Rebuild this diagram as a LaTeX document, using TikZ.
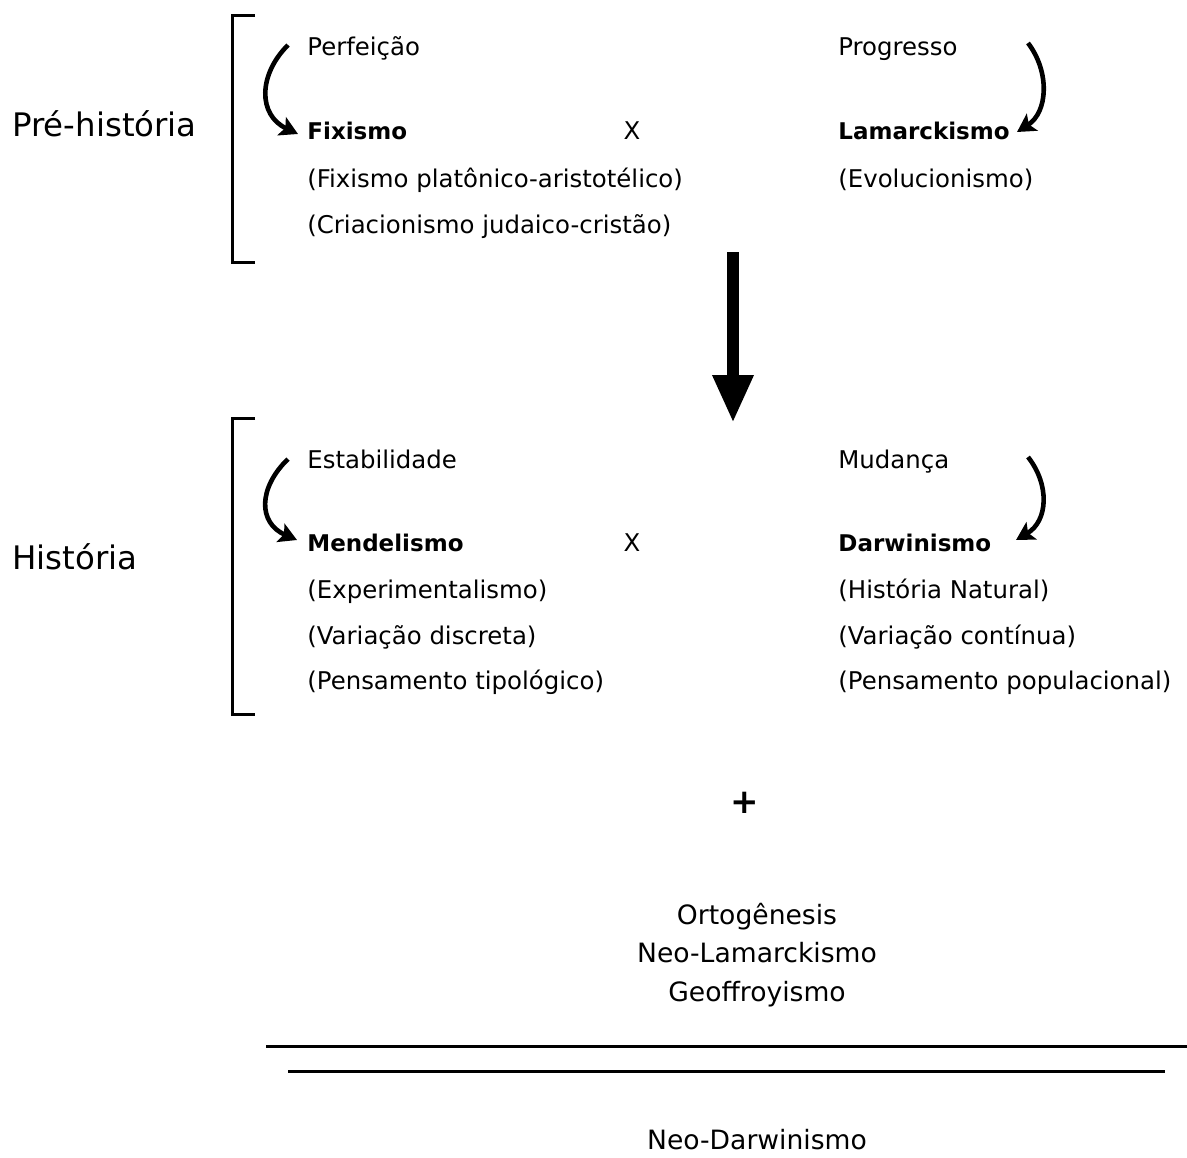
\documentclass[tikz,border=0pt]{standalone}
\usepackage{fontspec}
\setmainfont{DejaVu Sans}
\usetikzlibrary{arrows.meta}

\begin{document}
\begin{tikzpicture}[x=0.5pt,y=-0.5pt,font=\fontsize{12.2}{15}\selectfont,
  lbl/.style={anchor=west,inner sep=0pt,text height=8.9pt,text depth=0pt},
  bld/.style={lbl,font=\fontsize{11.5}{14}\selectfont\bfseries},
  era/.style={anchor=west,inner sep=0pt,font=\fontsize{16.2}{19}\selectfont,
    text height=11.8pt,text depth=0pt},
  mid/.style={inner sep=0pt,text height=8.9pt,text depth=0pt},
  ctr/.style={inner sep=0pt,font=\fontsize{13.3}{16}\selectfont,
    text height=9.7pt,text depth=0pt},
  brk/.style={line width=1.5pt},
  curvearr/.style={-{Stealth[length=9pt,width=10pt,inset=2pt]},line width=2.3pt},
  rule/.style={line width=1.5pt}]
\useasboundingbox (0,0) rectangle (1187,1157);
% eras
\node[era] (pre) at (12,125) {Pré-história};
\node[era] (his) at (12,558) {História};
\draw[brk] (255,15) -| (232,262) -- (255,262);
\draw[brk] (255,418) -| (232,714) -- (255,714);
% first block
\node[lbl] (perf) at (307,47) {Perfeição};
\node[lbl] (prog) at (838,47) {Progresso};
\node[bld] (fix) at (307,131) {Fixismo};
\node[mid] (xa) at (632,131) {X};
\node[bld] (lam) at (838,131) {Lamarckismo};
\foreach \i/\y/\t in {1/179/(Fixismo platônico-aristotélico),2/225/(Criacionismo judaico-cristão)}{
  \node[lbl] (fixa\i) at (307,\y) {\t};
}
\node[lbl] (lama1) at (838,179) {(Evolucionismo)};
\coordinate (c1) at (288,45);
\coordinate (c2) at (298,134);
\coordinate (c3) at (1028,43);
\coordinate (c4) at (1017,132);
\draw[curvearr] (c1) .. controls (258,75) and (258,115) .. (c2);
\draw[curvearr] (c3) .. controls (1050,72) and (1048,112) .. (c4);
% down arrow
\coordinate (top) at (733,252);
\coordinate (tip) at (733,423);
\draw[-{Triangle[length=24pt,width=19pt]},line width=6pt] (top) -- (tip);
% second block
\node[lbl] (est) at (307,460) {Estabilidade};
\node[lbl] (mud) at (838,460) {Mudança};
\node[bld] (men) at (307,543) {Mendelismo};
\node[mid] (xb) at (632,543) {X};
\node[bld] (dar) at (838,543) {Darwinismo};
\foreach \i/\y/\a/\b in {1/590/(Experimentalismo)/(História Natural),
    2/636/(Variação discreta)/(Variação contínua),
    3/681/(Pensamento tipológico)/(Pensamento populacional)}{
  \node[lbl] (mena\i) at (307,\y) {\a};
  \node[lbl] (dara\i) at (838,\y) {\b};
}
\coordinate (c5) at (288,459);
\coordinate (c6) at (297,540);
\coordinate (c7) at (1028,457);
\coordinate (c8) at (1016,540);
\draw[curvearr] (c5) .. controls (258,488) and (258,523) .. (c6);
\draw[curvearr] (c7) .. controls (1050,485) and (1048,521) .. (c8);
% synthesis
\node[inner sep=0pt,font=\fontsize{17}{20}\selectfont\bfseries] (plus) at (745,803) {+};
\foreach \i/\y/\t in {1/915/Ortogênesis,2/953/Neo-Lamarckismo,3/992/Geoffroyismo}{
  \node[ctr] (alt\i) at (757,\y) {\t};
}
\coordinate (r1a) at (266,1046);
\coordinate (r1b) at (1187,1046);
\coordinate (r2a) at (288,1071);
\coordinate (r2b) at (1165,1071);
\draw[rule] (r1a) -- (r1b);
\draw[rule] (r2a) -- (r2b);
\node[ctr] (neo) at (757,1140) {Neo-Darwinismo};
\end{tikzpicture}
\end{document}
